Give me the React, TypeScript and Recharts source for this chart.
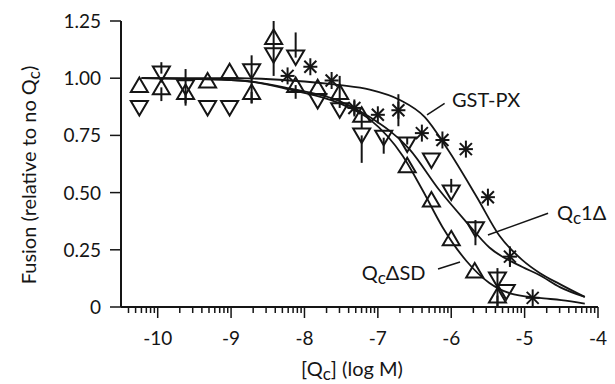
import { ComposedChart, Line, Scatter, XAxis, YAxis, ErrorBar, ReferenceLine, ReferenceDot } from "recharts"

const font = "Lato, 'Open Sans', sans-serif"
const ink = "#151515"

// GST-PX points (asterisks)
const gstX = [-8.23, -7.92, -7.63, -7.32, -7.0, -6.72, -6.4, -6.12, -5.8, -5.5, -5.2, -4.89]
const gstY = [1.01, 1.05, 0.99, 0.87, 0.84, 0.86, 0.76, 0.73, 0.69, 0.48, 0.22, 0.04]
const gstErr = [[0, 0], [0, 0], [0, 0], [0.03, 0.03], [0, 0], [0.07, 0.07], [0, 0], [0, 0], [0, 0], [0, 0], [0.045, 0.045], [0, 0]]

// Qc-delta-SD points (up triangles)
const sdX = [-10.25, -9.95, -9.62, -9.32, -9.02, -8.72, -8.42, -8.12, -7.82, -7.52, -7.22, -6.6, -6.27, -6.0, -5.68, -5.37]
const sdY = [0.97, 0.96, 0.94, 0.99, 1.03, 0.94, 1.18, 0.97, 0.96, 0.94, 0.84, 0.62, 0.47, 0.3, 0.16, 0.05]
const sdErr = [[0, 0], [0.06, 0], [0.05, 0], [0, 0], [0, 0], [0.05, 0], [0.17, 0.07], [0.06, 0], [0, 0], [0.07, 0.07], [0.06, 0], [0, 0], [0, 0], [0, 0], [0, 0], [0.05, 0]]

// Qc1-delta points (down triangles)
const d1X = [-10.25, -9.95, -9.62, -9.32, -9.02, -8.72, -8.42, -8.12, -7.82, -7.52, -7.22, -6.92, -6.6, -6.27, -6.0, -5.67, -5.37, -5.25]
const d1Y = [0.87, 1.02, 0.96, 0.87, 0.87, 1.03, 1.1, 1.09, 0.9, 0.86, 0.75, 0.74, 0.71, 0.64, 0.5, 0.34, 0.12, 0.066]
const d1Err = [[0, 0], [0, 0.05], [0.08, 0.08], [0, 0], [0, 0], [0.14, 0.07], [0, 0], [0, 0.11], [0, 0], [0, 0], [0.12, 0], [0.07, 0], [0, 0.03], [0, 0], [0, 0.06], [0.07, 0.04], [0.12, 0.05], [0, 0]]

// fitted curves
const gstFitX = [-10.22, -8.88, -8.2, -7.52, -7.11, -6.7, -6.36, -6.06, -5.65, -5.34, -5.03, -4.8, -4.52, -4.18]
const gstFitY = [1.0, 1.0, 0.99, 0.97, 0.95, 0.905, 0.83, 0.695, 0.48, 0.31, 0.205, 0.15, 0.1, 0.044]
const d1FitX = [-10.22, -8.88, -8.2, -7.52, -7.11, -6.57, -6.16, -5.79, -5.48, -5.03, -4.8, -4.52, -4.18]
const d1FitY = [1.0, 0.99, 0.955, 0.9, 0.83, 0.69, 0.51, 0.37, 0.26, 0.175, 0.14, 0.087, 0.044]
const sdFitX = [-10.22, -8.88, -8.2, -7.52, -7.11, -6.66, -6.39, -6.12, -5.79, -5.48, -5.2, -4.8, -4.5, -4.18]
const sdFitY = [1.0, 0.99, 0.95, 0.89, 0.82, 0.66, 0.51, 0.35, 0.2, 0.105, 0.06, 0.04, 0.03, 0.015]

const xMajorTicks = [-10, -9, -8, -7, -6, -5, -4]
const minorSteps = [2, 3, 4, 5, 6, 7, 8, 9]
const xMinorTicks = [-11, -10, -9, -8, -7, -6, -5]
    .flatMap((d) => minorSteps.map((k) => d + Math.log10(k)))
    .filter((v) => v > -10.5 && v < -4)
const yTicks = [0, 0.25, 0.5, 0.75, 1.0, 1.25]

const pts = (xs: number[], ys: number[], errs?: number[][]) =>
    xs.map((x, i) => ({ x, y: ys[i], err: errs ? errs[i] : [0, 0] }))

const gstPoints = pts(gstX, gstY, gstErr)
const sdPoints = pts(sdX, sdY, sdErr)
const d1Points = pts(d1X, d1Y, d1Err)
const gstFit = pts(gstFitX, gstFitY)
const d1Fit = pts(d1FitX, d1FitY)
const sdFit = pts(sdFitX, sdFitY)

function UpTri(props: any) {
    const { cx, cy } = props
    return <path d={`M${cx},${cy - 7.5} L${cx + 8.5},${cy + 7} L${cx - 8.5},${cy + 7} Z`} fill="none" stroke={ink} strokeWidth={2} />
}

function DownTri(props: any) {
    const { cx, cy } = props
    return <path d={`M${cx},${cy + 7.5} L${cx + 8.5},${cy - 7} L${cx - 8.5},${cy - 7} Z`} fill="none" stroke={ink} strokeWidth={2} />
}

function Star(props: any) {
    const { cx, cy } = props
    return (
        <g stroke={ink} strokeWidth={2}>
            <line x1={cx} y1={cy - 8.5} x2={cx} y2={cy + 8.5} />
            <line x1={cx - 7} y1={cy} x2={cx + 7} y2={cy} />
            <line x1={cx - 6} y1={cy - 6} x2={cx + 6} y2={cy + 6} />
            <line x1={cx - 6} y1={cy + 6} x2={cx + 6} y2={cy - 6} />
        </g>
    )
}

function XTick(props: any) {
    const { x, y, payload } = props
    const major = Number.isInteger(payload.value)
    return (
        <g>
            <line x1={x} x2={x} y1={y} y2={y + (major ? 11 : 6)} stroke={ink} strokeWidth={1.5} />
            {major && (
                <text x={x} y={y + 38} textAnchor="middle" fontSize={19} fontFamily={font} fill={ink}>
                    {payload.value}
                </text>
            )}
        </g>
    )
}

function YTick(props: any) {
    const { x, y, payload } = props
    const v = payload.value
    return (
        <g>
            <line x1={x} x2={x - 11} y1={y} y2={y} stroke={ink} strokeWidth={1.5} />
            <text x={x - 20} y={y + 7} textAnchor="end" fontSize={19} fontFamily={font} fill={ink}>
                {v === 0 ? "0" : v.toFixed(2)}
            </text>
        </g>
    )
}

const textLabel = (main: string, rest: string) => (props: any) => (
    <text x={props.cx} y={props.cy} fontSize={20} fontFamily={font} fill={ink}>
        {main}
        <tspan fontSize={17} dy={4}>c</tspan>
        <tspan dy={-4}>{rest}</tspan>
    </text>
)

const plainLabel = (s: string) => (props: any) => (
    <text x={props.cx} y={props.cy} fontSize={20} fontFamily={font} fill={ink}>{s}</text>
)

export default function App() {
    return (
        <div style={{ position: "absolute", left: 0, top: 0, background: "#fff" }}>
            <ComposedChart width={615} height={384} margin={{ top: 21, right: 17, bottom: 0, left: 0 }}>
                <XAxis
                    type="number"
                    dataKey="x"
                    domain={[-10.5, -4]}
                    ticks={[...xMinorTicks, ...xMajorTicks].sort((a, b) => a - b)}
                    interval={0}
                    height={77}
                    tickSize={0}
                    tickMargin={0}
                    tickLine={false}
                    tick={<XTick />}
                    axisLine={{ stroke: ink, strokeWidth: 2 }}
                    allowDataOverflow
                    label={{
                        content: (p: any) => (
                            <text x={352} y={376} textAnchor="middle" fontSize={20} fontFamily={font} fill={ink}>
                                [Q<tspan fontSize={17} dy={4}>c</tspan><tspan dy={-4}>] (log M)</tspan>
                            </text>
                        ),
                    }}
                />
                <YAxis
                    type="number"
                    dataKey="y"
                    domain={[0, 1.25]}
                    ticks={yTicks}
                    interval={0}
                    width={121}
                    tickSize={0}
                    tickMargin={0}
                    tickLine={false}
                    tick={<YTick />}
                    axisLine={{ stroke: ink, strokeWidth: 2 }}
                    allowDataOverflow
                    label={{
                        content: (p: any) => (
                            <text x={36} y={175} transform="rotate(-90, 36, 175)" textAnchor="middle" fontSize={20} fontFamily={font} fill={ink}>
                                Fusion (relative to no Q<tspan fontSize={17} dy={4}>c</tspan><tspan dy={-4}>)</tspan>
                            </text>
                        ),
                    }}
                />
                <Line data={gstFit} dataKey="y" type="monotone" dot={false} stroke={ink} strokeWidth={1.8} isAnimationActive={false} />
                <Line data={d1Fit} dataKey="y" type="monotone" dot={false} stroke={ink} strokeWidth={1.8} isAnimationActive={false} />
                <Line data={sdFit} dataKey="y" type="monotone" dot={false} stroke={ink} strokeWidth={1.8} isAnimationActive={false} />
                <Scatter data={sdPoints} dataKey="y" shape={<UpTri />} isAnimationActive={false}>
                    <ErrorBar dataKey="err" direction="y" width={0} stroke={ink} strokeWidth={2} />
                </Scatter>
                <Scatter data={d1Points} dataKey="y" shape={<DownTri />} isAnimationActive={false}>
                    <ErrorBar dataKey="err" direction="y" width={0} stroke={ink} strokeWidth={2} />
                </Scatter>
                <Scatter data={gstPoints} dataKey="y" shape={<Star />} isAnimationActive={false}>
                    <ErrorBar dataKey="err" direction="y" width={0} stroke={ink} strokeWidth={2} />
                </Scatter>
                <ReferenceLine segment={[{ x: -6.33, y: 0.84 }, { x: -6.09, y: 0.89 }]} stroke={ink} strokeWidth={1.5} />
                <ReferenceLine segment={[{ x: -5.5, y: 0.315 }, { x: -4.68, y: 0.41 }]} stroke={ink} strokeWidth={1.5} />
                <ReferenceLine segment={[{ x: -6.18, y: 0.166 }, { x: -5.88, y: 0.197 }]} stroke={ink} strokeWidth={1.5} />
                <ReferenceDot x={-5.99} y={0.874} r={0} shape={plainLabel("GST-PX")} />
                <ReferenceDot x={-4.56} y={0.38} r={0} shape={textLabel("Q", "1\u0394")} ifOverflow="visible" />
                <ReferenceDot x={-7.22} y={0.118} r={0} shape={textLabel("Q", "\u0394SD")} />
            </ComposedChart>
        </div>
    )
}
